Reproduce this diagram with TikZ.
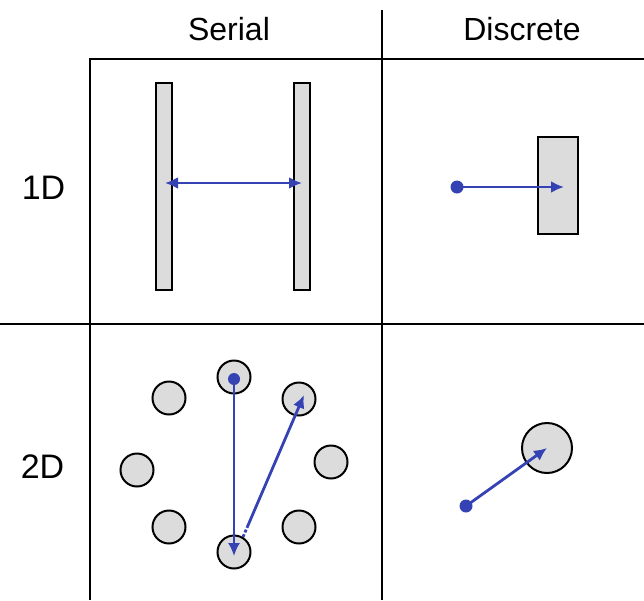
\documentclass[tikz,border=0pt]{standalone}
\usepackage{fontspec}
\setmainfont{Liberation Sans}
\usetikzlibrary{arrows.meta}
\definecolor{arrblue}{HTML}{3442B4}
\definecolor{boxgray}{HTML}{DCDCDC}
\begin{document}
\begin{tikzpicture}[x=1pt,y=-1pt,
 gridline/.style={line width=2.6pt},
 bar/.style={draw, line width=2pt, fill=boxgray, rectangle, inner sep=0pt, minimum width=16pt, minimum height=207pt},
 ball/.style={draw, line width=2pt, fill=boxgray, circle, inner sep=0pt, minimum size=33pt},
 lbl/.style={font=\fontsize{32}{38}\selectfont, inner sep=0pt, anchor=base},
 rowlbl/.style={font=\fontsize{34}{40}\selectfont, inner sep=0pt, anchor=base},
 tip/.tip={Latex[length=13pt,width=12pt]},
 arr/.style={draw=arrblue, line width=2.8pt, -tip},
 thinarr/.style={draw=arrblue, line width=2pt, -tip},
 dot/.style={circle, fill=arrblue, inner sep=0pt, minimum size=13pt}
]
\useasboundingbox (0,0) rectangle (644,600);
% grid
\draw[gridline] (382,10) -- (382,600);
\draw[gridline] (90,600) -- (90,59) -- (644,59);
\draw[gridline] (0,324) -- (644,324);
% labels
\node[lbl] (serial) at (229,40) {Serial};
\node[lbl] (discrete) at (522,40) {Discrete};
\node[rowlbl] (oneD) at (43.5,199) {1D};
\node[rowlbl] (twoD) at (42.5,478) {2D};
% 1D serial
\node[bar] (lbar) at (164,186.5) {};
\node[bar] (rbar) at (301.5,186.5) {};
\coordinate (la) at (165,183);
\coordinate (ra) at (302,183);
\draw[arr, tip-tip] (la) -- (ra);
% 1D discrete
\node[draw, line width=2pt, fill=boxgray, rectangle, inner sep=0pt, minimum width=40pt, minimum height=97pt] (dbox) at (558,185.5) {};
\node[dot] (d1) at (457,187) {};
\coordinate (d1end) at (564,187);
\draw[arr] (d1.center) -- (d1end);
% 2D serial
\node[ball] (ct) at (234,377) {};
\node[ball] (ctr) at (299,399) {};
\node[ball] (cr) at (331,462) {};
\node[ball] (cbr) at (299,527) {};
\node[ball] (cb) at (234,552) {};
\node[ball] (cbl) at (169,527) {};
\node[ball] (cl) at (137,470) {};
\node[ball] (ctl) at (169,398) {};
\node[dot, minimum size=12pt] (sdot) at (234,379) {};
\coordinate (send) at (234,556);
\draw[thinarr] (sdot.center) -- (send);
\coordinate (s2start) at (243,537);
\coordinate (s2end) at (304,395);
\draw[arr, dash pattern=on 3pt off 2pt on 3pt off 2pt on 400pt] (s2start) -- (s2end);
% 2D discrete
\node[ball, minimum size=50pt] (dc) at (547,448) {};
\node[dot] (d2) at (466,506) {};
\coordinate (d2end) at (547,448);
\draw[arr] (d2.center) -- (d2end);
\end{tikzpicture}
\end{document}
